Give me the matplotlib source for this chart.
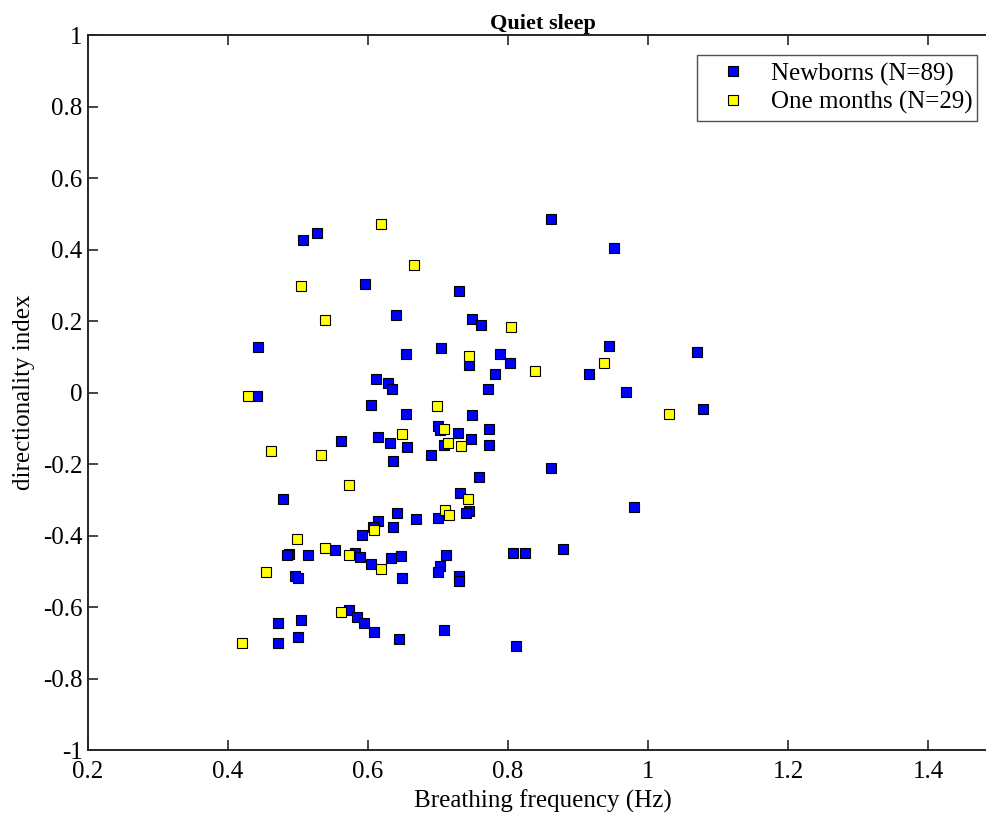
import numpy as np
import matplotlib
matplotlib.use("Agg")
import matplotlib.pyplot as plt

plt.rcParams['font.family'] = ['Liberation Serif', 'DejaVu Serif']

# newborns (blue)
nb_freq = [0.861, 0.952, 0.527, 0.507, 0.596, 0.730, 0.640, 0.748, 0.761, 0.443,
           0.705, 0.944, 1.070, 0.654, 0.789, 0.803, 0.744, 0.916, 0.781, 0.612,
           0.628, 0.635, 0.771, 0.969, 0.441, 0.604, 1.078, 0.655, 0.748, 0.700,
           0.703, 0.728, 0.773, 0.747, 0.561, 0.615, 0.632, 0.709, 0.773, 0.656,
           0.636, 0.690, 0.861, 0.758, 0.732, 0.479, 0.980, 0.641, 0.744, 0.740,
           0.700, 0.669, 0.615, 0.607, 0.636, 0.591, 0.879, 0.553, 0.487, 0.484,
           0.514, 0.582, 0.589, 0.633, 0.647, 0.711, 0.807, 0.825, 0.604, 0.703,
           0.700, 0.496, 0.500, 0.649, 0.730, 0.730, 0.573, 0.584, 0.595, 0.609,
           0.471, 0.504, 0.500, 0.472, 0.645, 0.708, 0.811]
nb_di = [0.486, 0.405, 0.446, 0.427, 0.304, 0.283, 0.218, 0.205, 0.188, 0.126,
         0.125, 0.131, 0.112, 0.108, 0.109, 0.083, 0.076, 0.053, 0.053, 0.039,
         0.027, 0.011, 0.011, 0.002, -0.010, -0.034, -0.045, -0.061, -0.063, -0.094,
         -0.105, -0.113, -0.102, -0.130, -0.135, -0.125, -0.140, -0.148, -0.146, -0.152,
         -0.192, -0.174, -0.211, -0.237, -0.281, -0.297, -0.321, -0.338, -0.332, -0.336,
         -0.351, -0.353, -0.359, -0.375, -0.375, -0.398, -0.437, -0.441, -0.451, -0.454,
         -0.454, -0.450, -0.461, -0.462, -0.457, -0.455, -0.450, -0.449, -0.480, -0.485,
         -0.503, -0.514, -0.520, -0.519, -0.512, -0.527, -0.608, -0.629, -0.644, -0.669,
         -0.646, -0.636, -0.683, -0.702, -0.689, -0.663, -0.710]

# one month olds (yellow)
om_freq = [0.619, 0.666, 0.504, 0.538, 0.804, 0.744, 0.839, 0.937, 0.428, 0.699,
           1.030, 0.708, 0.649, 0.715, 0.733, 0.461, 0.533, 0.573, 0.743, 0.710,
           0.716, 0.609, 0.499, 0.539, 0.573, 0.618, 0.454, 0.562, 0.420]
om_di = [0.470, 0.358, 0.297, 0.203, 0.182, 0.103, 0.061, 0.082, -0.011, -0.038,
         -0.061, -0.103, -0.117, -0.142, -0.151, -0.164, -0.176, -0.258, -0.299, -0.328,
         -0.344, -0.385, -0.410, -0.435, -0.454, -0.495, -0.503, -0.615, -0.702]

fig = plt.figure(figsize=(9.87, 8.21), dpi=100)
# axes run slightly past the right edge, like the cropped original
ax = fig.add_axes([88/987, 71/821, 910/987, 715/821])

ax.plot(nb_freq, nb_di, 's', ms=7.2, mfc='#0000ff', mec='black', mew=0.8,
        label='Newborns (N=89)')
ax.plot(om_freq, om_di, 's', ms=7.2, mfc='#ffff00', mec='black', mew=0.8,
        label='One months (N=29)')

ax.set_xlim(0.2, 1.5)
ax.set_ylim(-1, 1)
ax.set_xticks(np.arange(0.2, 1.41, 0.2))
ax.set_xticklabels(['0.2', '0.4', '0.6', '0.8', '1', '1.2', '1.4'])
ax.set_yticks(np.arange(-1, 1.01, 0.2))
ax.set_yticklabels(['-1', '-0.8', '-0.6', '-0.4', '-0.2', '0', '0.2', '0.4',
                    '0.6', '0.8', '1'])
ax.tick_params(direction='in', length=7, width=1.2, labelsize=18,
               top=True, right=True, color='#262626')
ax.tick_params(axis='x', pad=8)
ax.tick_params(axis='y', pad=4)
for s in ax.spines.values():
    s.set_linewidth(1.4)
    s.set_color('#262626')

ax.set_xlabel('Breathing frequency (Hz)', fontsize=18, labelpad=5)
ax.set_ylabel('directionality index', fontsize=18, labelpad=6)
ax.set_title('Quiet sleep', fontsize=16, fontweight='bold', pad=4)

leg = ax.legend(loc='upper left', bbox_to_anchor=(697/987, 0, 280/987, 1 - 55/821),
                bbox_transform=fig.transFigure, mode='expand', borderaxespad=0,
                fontsize=18, fancybox=False, handletextpad=0.35, borderpad=0.3,
                labelspacing=0.2, handlelength=2.3, numpoints=1)
leg.get_frame().set_edgecolor('#262626')
leg.get_frame().set_linewidth(1.0)

fig.savefig('out.png', dpi=100)
